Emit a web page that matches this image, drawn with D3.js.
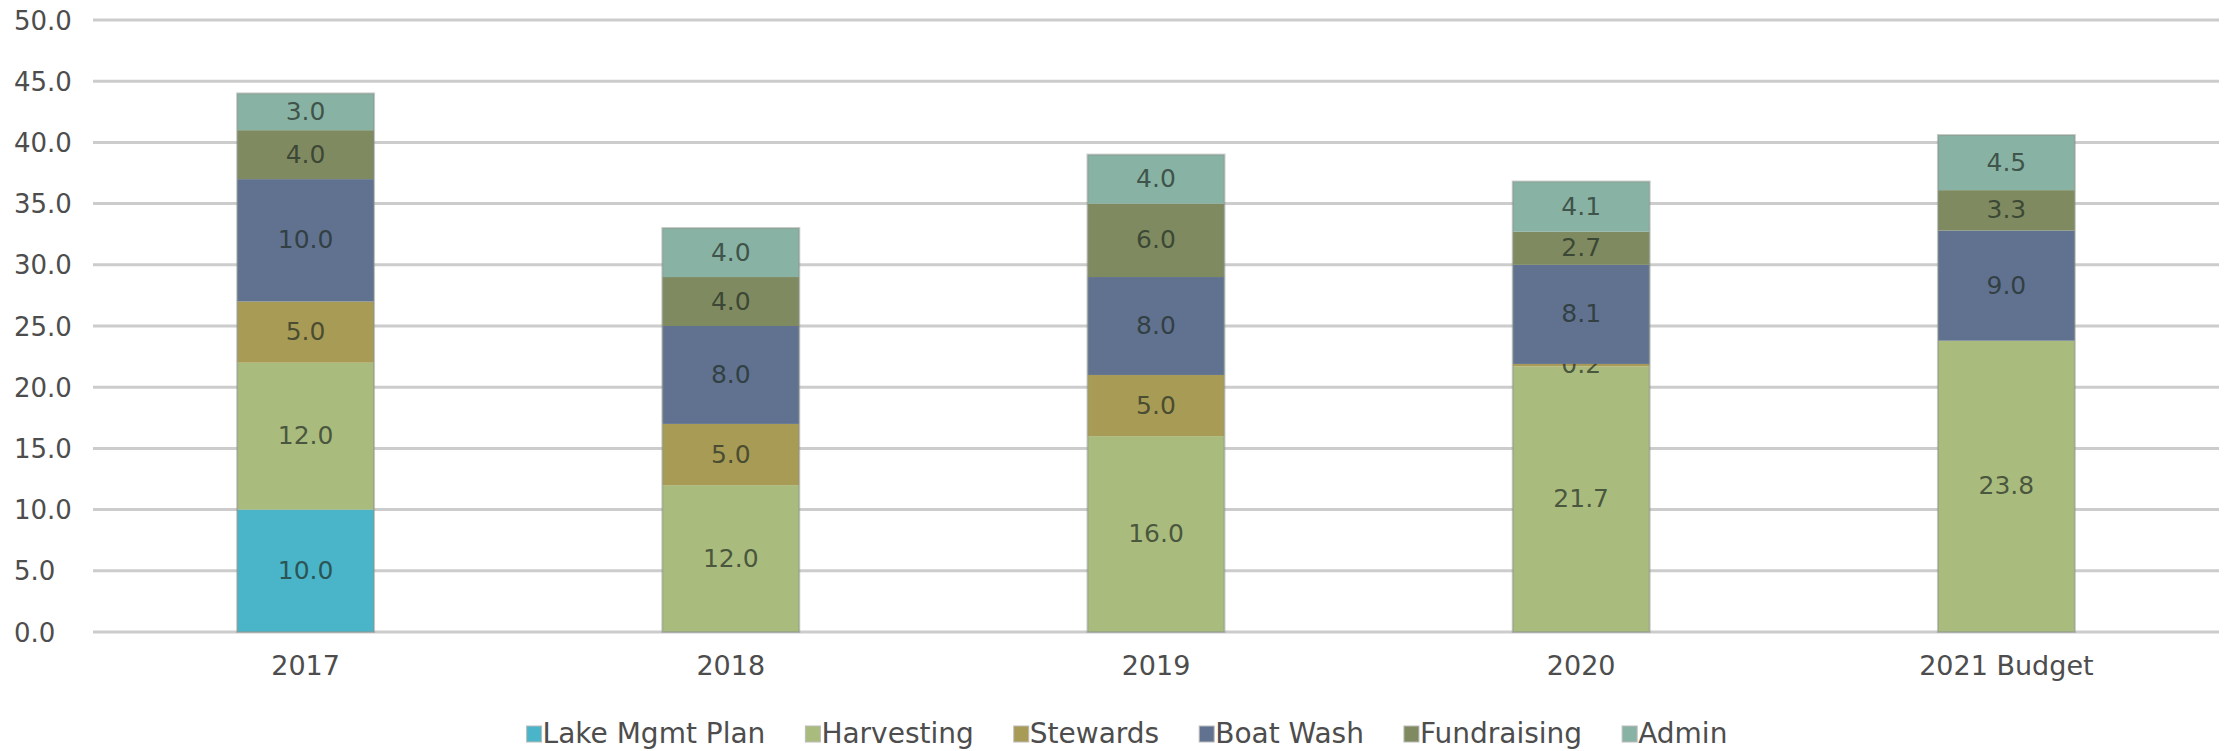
<!DOCTYPE html>
<html>
<head>
<meta charset="utf-8">
<script src="https://cdn.jsdelivr.net/npm/d3@7"></script>
<style>
  body { margin: 0; background: #fff; }
  text { font-family: "DejaVu Sans", sans-serif; }
</style>
</head>
<body>
<script>
"use strict";

(function() {

let width = 2231;
let height = 751;

// data
let years = ['2017', '2018', '2019', '2020', '2021 Budget'];
let seriesNames = ['Lake Mgmt Plan', 'Harvesting', 'Stewards', 'Boat Wash', 'Fundraising', 'Admin'];
let lakeMgmtPlan = [10.0, 0, 0, 0, 0];
let harvesting = [12.0, 12.0, 16.0, 21.7, 23.8];
let stewards = [5.0, 5.0, 5.0, 0.2, 0];
let boatWash = [10.0, 8.0, 8.0, 8.1, 9.0];
let fundraising = [4.0, 4.0, 6.0, 2.7, 3.3];
let admin = [3.0, 4.0, 4.0, 4.1, 4.5];
let yTicks = [0, 5, 10, 15, 20, 25, 30, 35, 40, 45, 50];
let colors = ['#4ab4c8', '#a9bb7d', '#a89b55', '#60728f', '#7f8a60', '#88b2a3'];

let seriesValues = [lakeMgmtPlan, harvesting, stewards, boatWash, fundraising, admin];

// one row per year for d3.stack
let table = years.map(function(y, i) {
    let row = { year: y };
    seriesNames.forEach(function(s, j) { row[s] = seriesValues[j][i]; });
    return row;
});

let stacked = d3.stack().keys(seriesNames)(table);

let svg = d3.select('body')
    .append('svg')
    .attr('width', width)
    .attr('height', height);

let x = d3.scaleBand()
    .domain(years)
    .range([93, 2219])
    .paddingInner(0.678)
    .paddingOuter(0.339);

let y = d3.scaleLinear()
    .domain([0, 50])
    .range([632, 20]);

let color = d3.scaleOrdinal()
    .domain(seriesNames)
    .range(colors);

// gridlines
svg.append('g')
    .selectAll('line')
    .data(yTicks)
    .enter()
    .append('line')
    .attr('x1', 93)
    .attr('x2', 2219)
    .attr('y1', function(d) { return y(d); })
    .attr('y2', function(d) { return y(d); })
    .attr('stroke', '#cccccc')
    .attr('stroke-width', 3);

// y tick labels, left aligned
svg.append('g')
    .selectAll('text')
    .data(yTicks)
    .enter()
    .append('text')
    .attr('x', 14)
    .attr('y', function(d) { return y(d) + 2; })
    .attr('dominant-baseline', 'middle')
    .style('font-size', '26px')
    .style('fill', '#4d4d4d')
    .text(function(d) { return d.toFixed(1); });

// stacked bars
let layers = svg.append('g')
    .selectAll('g')
    .data(stacked)
    .enter()
    .append('g')
    .attr('fill', function(d) { return color(d.key); });

layers.selectAll('rect')
    .data(function(d) { return d; })
    .enter()
    .append('rect')
    .attr('x', function(d) { return x(d.data.year); })
    .attr('width', x.bandwidth())
    .attr('y', function(d) { return y(d[1]); })
    .attr('height', function(d) { return y(d[0]) - y(d[1]); });

// faint outline round each whole bar
svg.append('g')
    .selectAll('rect')
    .data(table)
    .enter()
    .append('rect')
    .attr('x', function(d) { return x(d.year); })
    .attr('width', x.bandwidth())
    .attr('y', function(d) { return y(d3.sum(seriesNames, function(s) { return d[s]; })); })
    .attr('height', function(d) { return y(0) - y(d3.sum(seriesNames, function(s) { return d[s]; })); })
    .attr('fill', 'none')
    .attr('stroke', '#8c948c')
    .attr('stroke-opacity', 0.5)
    .attr('stroke-width', 2);

// value labels in the middle of each segment
layers.selectAll('text')
    .data(function(d) { return d.filter(function(p) { return p[1] - p[0] > 0; }); })
    .enter()
    .append('text')
    .attr('x', function(d) { return x(d.data.year) + x.bandwidth() / 2; })
    .attr('y', function(d) { return y((d[0] + d[1]) / 2) + 1; })
    .attr('text-anchor', 'middle')
    .attr('dominant-baseline', 'middle')
    .style('font-size', '25px')
    .style('fill', '#1e2a22')
    .style('fill-opacity', 0.7)
    .text(function(d) { return (d[1] - d[0]).toFixed(1); });

// x labels
svg.append('g')
    .selectAll('text')
    .data(years)
    .enter()
    .append('text')
    .attr('x', function(d) { return x(d) + x.bandwidth() / 2; })
    .attr('y', 667)
    .attr('text-anchor', 'middle')
    .attr('dominant-baseline', 'middle')
    .style('font-size', '27px')
    .style('fill', '#4d4d4d')
    .text(function(d) { return d; });

// legend, laid out from measured text widths and centred
let legend = svg.append('g');
let items = legend.selectAll('g')
    .data(seriesNames)
    .enter()
    .append('g');

items.append('rect')
    .attr('y', 726)
    .attr('width', 15)
    .attr('height', 16)
    .attr('fill', function(d) { return color(d); })
    .attr('stroke', '#bbb')
    .attr('stroke-width', 1);

items.append('text')
    .attr('x', 16)
    .attr('y', 735)
    .attr('dominant-baseline', 'middle')
    .style('font-size', '28px')
    .style('fill', '#4d4d4d')
    .text(function(d) { return d; });

let offset = 0;
let gap = 40;
items.each(function() {
    let g = d3.select(this);
    let w = 16 + g.select('text').node().getComputedTextLength();
    g.attr('transform', 'translate(' + offset + ',0)');
    offset += w + gap;
});
let total = offset - gap;
legend.attr('transform', 'translate(' + (1127 - total / 2) + ',0)');

})();
</script>
</body>
</html>
